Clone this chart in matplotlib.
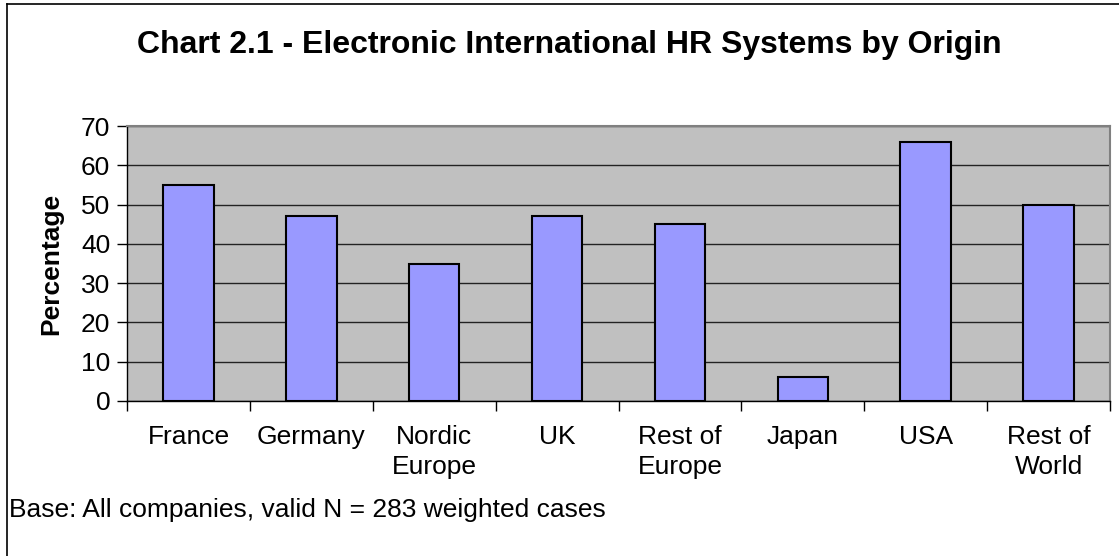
import matplotlib.pyplot as plt
from matplotlib.lines import Line2D

plt.rcParams['font.family'] = ['Liberation Sans', 'DejaVu Sans']

# data
categories = ['France', 'Germany', 'Nordic\nEurope', 'UK', 'Rest of\nEurope',
              'Japan', 'USA', 'Rest of\nWorld']
values = [55, 47, 35, 47, 45, 6, 66, 50]
yticks = [0, 10, 20, 30, 40, 50, 60, 70]

W, H = 1119, 556
fig = plt.figure(figsize=(W / 100, H / 100), dpi=100)
ax = fig.add_axes([127 / W, 1 - 401 / H, (1110 - 127) / W, (401 - 126) / H])

ax.set_facecolor('#c0c0c0')
x = range(len(categories))
ax.bar(x, values, width=0.41, color='#9999ff', edgecolor='black', linewidth=1.5, zorder=3)

ax.set_xlim(-0.5, len(categories) - 0.5)
ax.set_ylim(0, 70)
ax.set_yticks(yticks)
ax.yaxis.grid(True, color='#222222', linewidth=1, zorder=0)
ax.set_axisbelow(True)

# category labels centred under bars, tick marks between categories
ax.set_xticks([i + 0.5 for i in range(-1, len(categories))])
ax.set_xticklabels([])
ax.set_xticks(list(x), minor=True)
ax.set_xticklabels(categories, minor=True, fontsize=19, linespacing=1.35, va='top')
ax.tick_params(axis='x', which='minor', length=0, pad=17)
ax.tick_params(axis='x', which='major', length=7, width=1, color='black')
ax.tick_params(axis='y', length=7, width=1, labelsize=19, pad=5)

for s in ['top', 'right']:
    ax.spines[s].set_color('#808080')
    ax.spines[s].set_linewidth(1.5)
for s in ['left', 'bottom']:
    ax.spines[s].set_color('black')
    ax.spines[s].set_linewidth(1)

ax.set_ylabel('Percentage', fontsize=19, fontweight='bold', labelpad=13)

fig.text(569 / W, 1 - 45 / H, 'Chart 2.1 - Electronic International HR Systems by Origin',
         ha='center', va='center', fontsize=23, fontweight='bold')
fig.text(9 / W, 1 - 510 / H, 'Base: All companies, valid N = 283 weighted cases',
         ha='left', va='center', fontsize=19)

# chart frame (left and top edges visible)
fig.add_artist(Line2D([7 / W, 7 / W], [0, 1 - 4 / H], color='black', linewidth=1.2))
fig.add_artist(Line2D([7 / W, 1], [1 - 4 / H, 1 - 4 / H], color='black', linewidth=1.2))

fig.savefig('out.png', dpi=100)
